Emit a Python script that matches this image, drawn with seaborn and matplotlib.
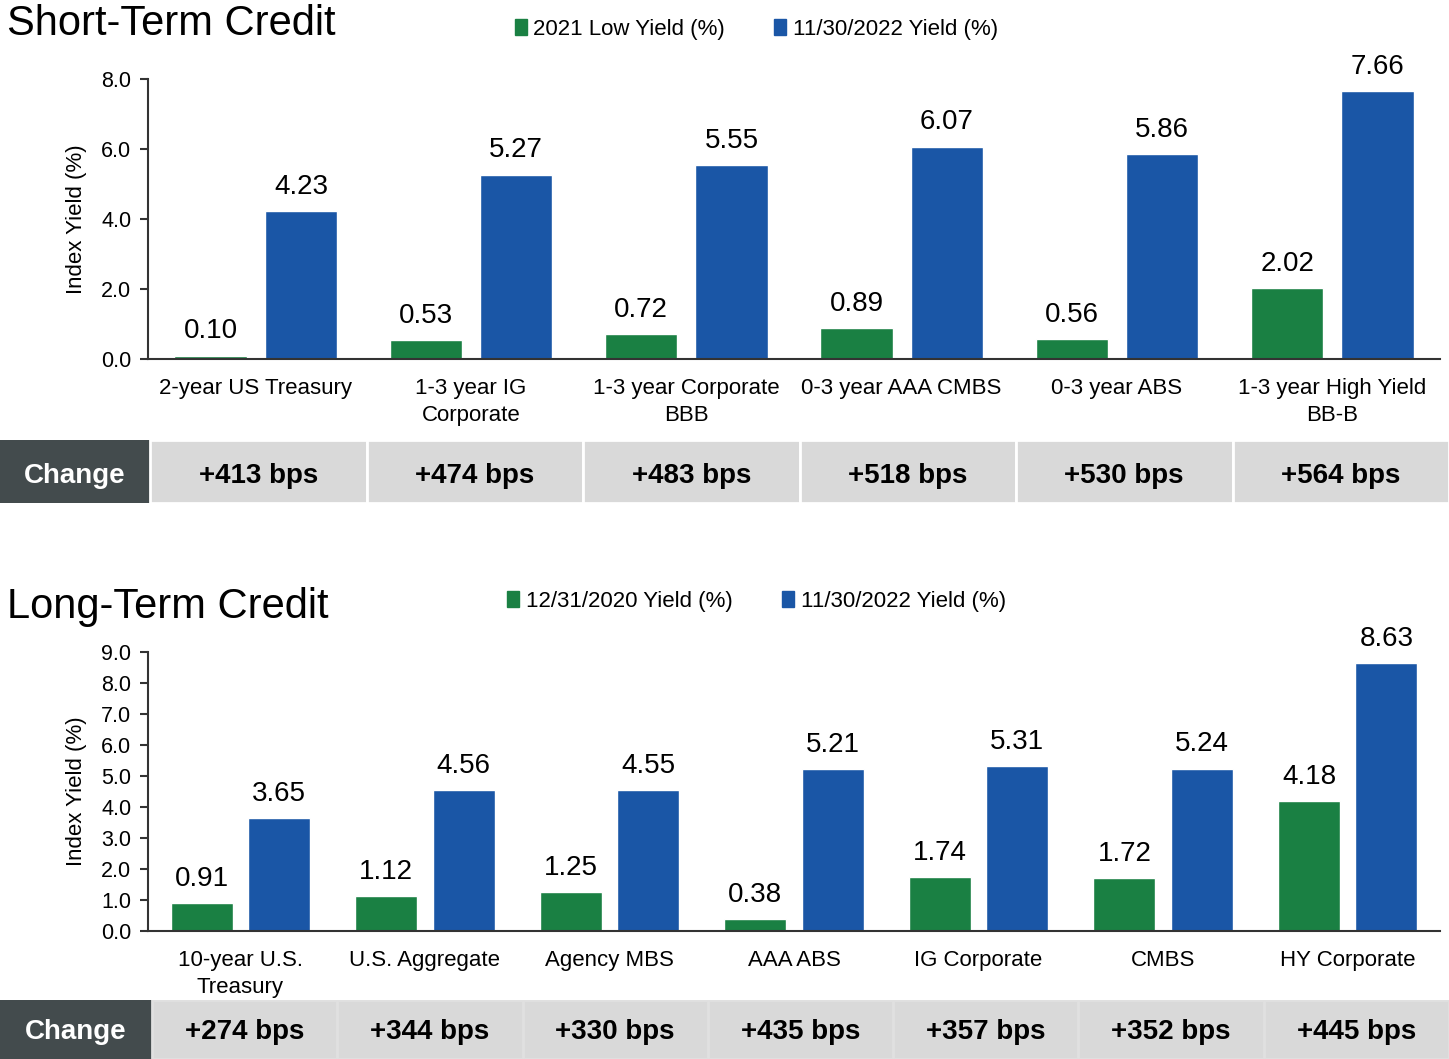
import numpy as np
import pandas as pd
import matplotlib.pyplot as plt
import matplotlib.patches as mpatches
import seaborn as sns

# Short-term credit panel
short_categories = ["2-year US Treasury", "1-3 year IG\nCorporate", "1-3 year Corporate\nBBB",
                    "0-3 year AAA CMBS", "0-3 year ABS", "1-3 year High Yield\nBB-B"]
short_series = ["2021 Low Yield (%)", "11/30/2022 Yield (%)"]
short_low = [0.10, 0.53, 0.72, 0.89, 0.56, 2.02]
short_now = [4.23, 5.27, 5.55, 6.07, 5.86, 7.66]
short_change = ["+413 bps", "+474 bps", "+483 bps", "+518 bps", "+530 bps", "+564 bps"]
short_ticks = [0.0, 2.0, 4.0, 6.0, 8.0]

# Long-term credit panel
long_categories = ["10-year U.S.\nTreasury", "U.S. Aggregate", "Agency MBS", "AAA ABS",
                   "IG Corporate", "CMBS", "HY Corporate"]
long_series = ["12/31/2020 Yield (%)", "11/30/2022 Yield (%)"]
long_start = [0.91, 1.12, 1.25, 0.38, 1.74, 1.72, 4.18]
long_now = [3.65, 4.56, 4.55, 5.21, 5.31, 5.24, 8.63]
long_change = ["+274 bps", "+344 bps", "+330 bps", "+435 bps", "+357 bps", "+352 bps", "+445 bps"]
long_ticks = [0.0, 1.0, 2.0, 3.0, 4.0, 5.0, 6.0, 7.0, 8.0, 9.0]

GREEN = "#1a8043"
BLUE = "#1a56a6"
DARK = "#434b4d"
LIGHT = "#d9d9d9"
SPINE = "#333333"

sns.set_style("white")
plt.rcParams['font.family'] = ['Liberation Sans', 'DejaVu Sans']
plt.rcParams['text.color'] = 'black'
plt.rcParams['axes.labelcolor'] = 'black'
plt.rcParams['xtick.color'] = 'black'
plt.rcParams['ytick.color'] = 'black'

W, H = 1449, 1059
fig = plt.figure(figsize=(W / 100, H / 100), dpi=100)


def draw_panel(ax_box, table_box, header_w, title, title_y, legend_y,
               cats, first, second, series, changes, ticks, sep_color, text_y):
    ax = fig.add_axes(ax_box)
    df = pd.DataFrame({
        "category": cats * 2,
        "series": [series[0]] * len(cats) + [series[1]] * len(cats),
        "yield": first + second,
    })
    sns.barplot(data=df, x="category", y="yield", hue="series", palette=[GREEN, BLUE],
                width=0.84, gap=0.2, saturation=1, errorbar=None, legend=False, ax=ax)
    for cont in ax.containers:
        ax.bar_label(cont, fmt="%.2f", padding=8, fontsize=20, color="black")

    ax.set_ylim(ticks[0], ticks[-1])
    ax.set_yticks(ticks)
    ax.set_yticklabels([f"{t:.1f}" for t in ticks], fontsize=15.5)
    ax.set_xlabel("")
    ax.set_ylabel("Index Yield (%)", fontsize=16, labelpad=10)
    ax.tick_params(axis="x", length=0, pad=14, labelsize=16)
    for lab in ax.get_xticklabels():
        lab.set_linespacing(1.35)
    ax.tick_params(axis="y", length=6, width=1.5, color=SPINE, direction="out", pad=6, left=True)
    for side in ["top", "right"]:
        ax.spines[side].set_visible(False)
    for side in ["left", "bottom"]:
        ax.spines[side].set_color(SPINE)
        ax.spines[side].set_linewidth(1.5)

    # title and legend
    fig.text(7 / W, title_y, title, fontsize=30, va="center", ha="left")
    handles = [mpatches.Patch(color=GREEN), mpatches.Patch(color=BLUE)]
    fig.legend(handles, series, loc="center", bbox_to_anchor=(0.522, legend_y), ncol=2,
               frameon=False, fontsize=16, handlelength=0.55, handleheight=0.7,
               handletextpad=0.3, columnspacing=2.2)

    # change row
    tax = fig.add_axes(table_box)
    tax.set_xlim(0, 1)
    tax.set_ylim(0, 1)
    tax.axis("off")
    tax.add_patch(mpatches.Rectangle((0, 0), header_w, 1, facecolor=DARK, edgecolor="none"))
    tax.text(header_w / 2, text_y, "Change", color="white", fontsize=20, fontweight="bold",
             ha="center", va="center")
    cw = (1 - header_w) / len(changes)
    for i, lab in enumerate(changes):
        x0 = header_w + i * cw
        tax.add_patch(mpatches.Rectangle((x0, 0), cw, 1, facecolor=LIGHT,
                                         edgecolor=sep_color, linewidth=2))
        tax.text(x0 + cw / 2, text_y, lab, fontsize=20, fontweight="bold", ha="center",
                 va="center", color="black")
    return ax


draw_panel([148 / W, 1 - 359 / H, 1292 / W, 280 / H],
           [0, 1 - 503 / H, 1, 63 / H], 150 / W,
           "Short-Term Credit", 1 - 24 / H, 1 - 29 / H,
           short_categories, short_low, short_now, short_series, short_change, short_ticks,
           "white", 0.43)

draw_panel([148 / W, 1 - 931 / H, 1292 / W, 279 / H],
           [0, 0, 1, 59 / H], 152 / W,
           "Long-Term Credit", 1 - 607 / H, 1 - 601 / H,
           long_categories, long_start, long_now, long_series, long_change, long_ticks,
           "#e0e0e0", 0.45)

fig.savefig("out.png", dpi=100)
